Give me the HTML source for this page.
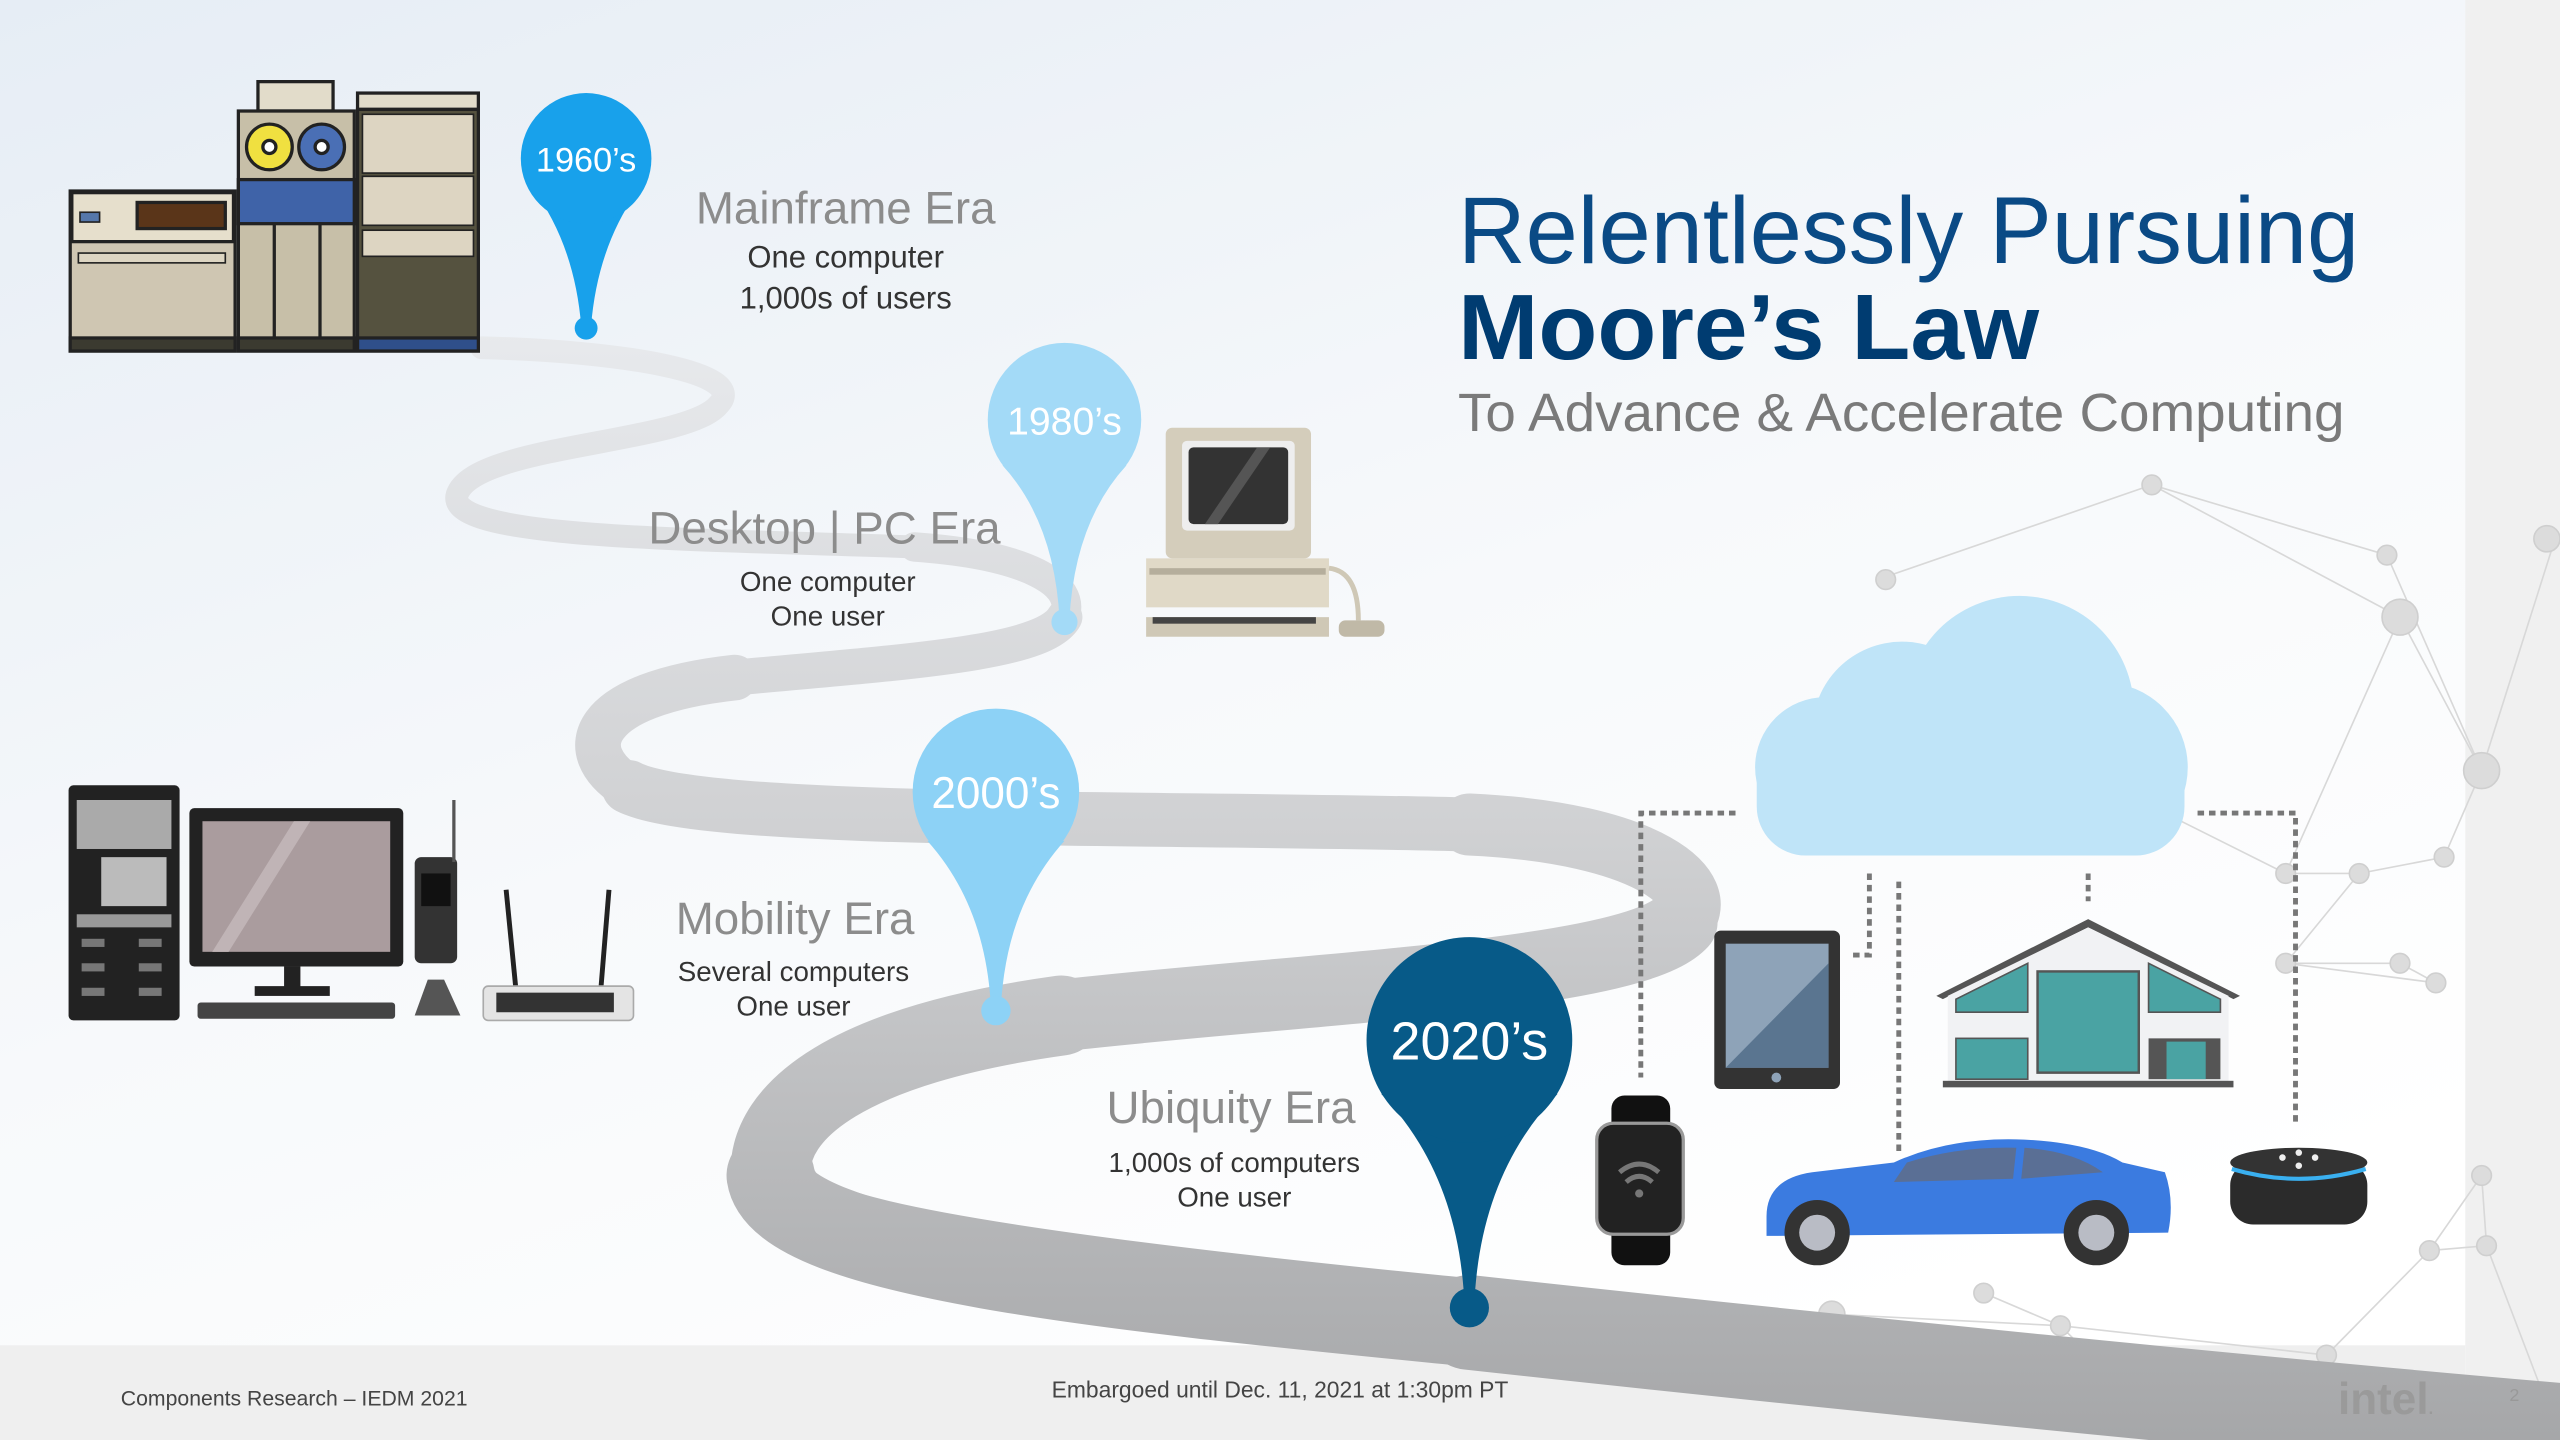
<!DOCTYPE html>
<html><head><meta charset="utf-8"><style>
html,body{margin:0;padding:0;width:2560px;height:1440px;overflow:hidden;background:#fff}
svg{display:block}
text{font-family:"Liberation Sans",sans-serif}
</style></head><body>
<svg width="2560" height="1440" viewBox="0 0 1568 882" xmlns="http://www.w3.org/2000/svg">
<defs>
<linearGradient id="bg" x1="0" y1="0" x2="0.6" y2="1">
<stop offset="0" stop-color="#e6edf5"/><stop offset="0.55" stop-color="#f7f9fb"/><stop offset="1" stop-color="#ffffff"/>
</linearGradient>
<linearGradient id="rd" gradientUnits="userSpaceOnUse" x1="0" y1="200" x2="0" y2="880">
<stop offset="0" stop-color="#e8eaed"/><stop offset="0.45" stop-color="#d0d1d3"/><stop offset="1" stop-color="#a6a7a9"/>
</linearGradient>
</defs>
<rect width="1568" height="882" fill="url(#bg)"/>
<rect x="1510" y="0" width="58" height="882" fill="#f0f0f0"/>
<rect x="0" y="824" width="1510" height="58" fill="#efefef"/>

<!-- network -->
<g stroke="#d8d8d8" stroke-width="1" fill="none">
<path d="M1150 355 L1318 297 L1470 378 L1520 472 L1565 330 M1318 297 L1462 340 L1520 472 L1497 525 L1445 535 L1400 590 L1470 590 L1492 602 M1400 535 L1445 535 M1400 590 L1492 602 M1170 420 L1400 535 M1470 378 L1400 535 M1520 720 L1488 766 L1425 830 L1370 880 M1520 720 L1523 763 L1560 860 M1488 766 L1523 763 M1262 812 L1425 830 M1215 792 L1262 812 L1330 880 M1122 805 L1262 812"/>
</g>
<g fill="#dcdcdc" stroke="#cfcfcf">
<circle cx="1318" cy="297" r="6"/><circle cx="1470" cy="378" r="11"/><circle cx="1462" cy="340" r="6"/><circle cx="1520" cy="472" r="11"/><circle cx="1497" cy="525" r="6"/><circle cx="1445" cy="535" r="6"/><circle cx="1400" cy="535" r="6"/><circle cx="1400" cy="590" r="6"/><circle cx="1470" cy="590" r="6"/><circle cx="1492" cy="602" r="6"/><circle cx="1155" cy="355" r="6"/><circle cx="1520" cy="720" r="6"/><circle cx="1488" cy="766" r="6"/><circle cx="1523" cy="763" r="6"/><circle cx="1425" cy="830" r="6"/><circle cx="1262" cy="812" r="6"/><circle cx="1215" cy="792" r="6"/><circle cx="1122" cy="805" r="8"/><circle cx="1560" cy="330" r="8"/><circle cx="1540" cy="860" r="10"/>
</g>

<!-- road -->
<g fill="none" stroke="url(#rd)" stroke-linecap="round">
<path stroke-width="14" d="M295 213 C380 215 460 228 440 248 C420 272 290 272 280 303 C272 330 420 330 560 335 C630 340 660 358 652 378 C640 400 560 405 450 415 C360 425 350 460 385 482 C430 505 700 500 900 505 C1010 510 1050 545 1030 565 C1000 598 800 605 650 622 C520 640 470 680 472 720 C480 770 700 790 900 810 C1100 832 1400 862 1590 878"/>
<path stroke-width="18" d="M560 335 C630 340 660 358 652 378 C640 400 560 405 450 415 C360 425 350 460 385 482 C430 505 700 500 900 505 C1010 510 1050 545 1030 565 C1000 598 800 605 650 622 C520 640 470 680 472 720 C480 770 700 790 900 810 C1100 832 1400 862 1590 878"/>
<path stroke-width="22" d="M652 378 C640 400 560 405 450 415 C360 425 350 460 385 482 C430 505 700 500 900 505 C1010 510 1050 545 1030 565 C1000 598 800 605 650 622 C520 640 470 680 472 720 C480 770 700 790 900 810 C1100 832 1400 862 1590 878"/>
<path stroke-width="28" d="M450 415 C360 425 350 460 385 482 C430 505 700 500 900 505 C1010 510 1050 545 1030 565 C1000 598 800 605 650 622 C520 640 470 680 472 720 C480 770 700 790 900 810 C1100 832 1400 862 1590 878"/>
<path stroke-width="33" d="M385 482 C430 505 700 500 900 505 C1010 510 1050 545 1030 565 C1000 598 800 605 650 622 C520 640 470 680 472 720 C480 770 700 790 900 810 C1100 832 1400 862 1590 878"/>
<path stroke-width="38" d="M900 505 C1010 510 1050 545 1030 565 C1000 598 800 605 650 622 C520 640 470 680 472 720 C480 770 700 790 900 810 C1100 832 1400 862 1590 878"/>
<path stroke-width="44" d="M1030 565 C1000 598 800 605 650 622 C520 640 470 680 472 720 C480 770 700 790 900 810 C1100 832 1400 862 1590 878"/>
<path stroke-width="49" d="M650 622 C520 640 470 680 472 720 C480 770 700 790 900 810 C1100 832 1400 862 1590 878"/>
<path stroke-width="54" d="M472 720 C480 770 700 790 900 810 C1100 832 1400 862 1590 878"/>
<path stroke-width="58" d="M900 810 C1100 832 1400 862 1590 878"/>
</g>

<!-- footer over road -->
<g font-size="13" fill="#444">
<text x="74" y="861">Components Research – IEDM 2021</text>
<text x="784" y="856" text-anchor="middle" font-size="14">Embargoed until Dec. 11, 2021 at 1:30pm PT</text>
</g>
<text x="1432" y="866" font-size="27" font-weight="bold" fill="#9a9a9a">intel<tspan font-size="10">.</tspan></text>
<text x="1537" y="858" font-size="11" fill="#999">2</text>

<!-- title -->
<text x="893" y="161" font-size="58" fill="#0a4a85" textLength="552" lengthAdjust="spacingAndGlyphs">Relentlessly Pursuing</text>
<text x="893" y="220" font-size="57" font-weight="bold" fill="#003c71" textLength="356" lengthAdjust="spacingAndGlyphs">Moore’s Law</text>
<text x="893" y="264" font-size="33" fill="#7a7a7a" textLength="543" lengthAdjust="spacingAndGlyphs">To Advance &amp; Accelerate Computing</text>

<!-- pins -->
<g>
<path d="M326 115 Q352 150 356 200 L362 200 Q366 150 392 115 Z" fill="#18a1eb"/><circle cx="359" cy="97" r="40" fill="#18a1eb"/><circle cx="359" cy="201" r="7" fill="#18a1eb"/>
<text x="359" y="105" font-size="21" fill="#fff" text-anchor="middle">1960’s</text>
<path d="M614 285 Q646 320 649 380 L655 380 Q658 320 690 285 Z" fill="#a3daf7"/><circle cx="652" cy="257" r="47" fill="#a3daf7"/><circle cx="652" cy="381" r="8" fill="#a3daf7"/>
<text x="652" y="266" font-size="24" fill="#fff" text-anchor="middle">1980’s</text>
<path d="M568 515 Q604 555 607 618 L613 618 Q616 555 652 515 Z" fill="#8dd2f6"/><circle cx="610" cy="485" r="51" fill="#8dd2f6"/><circle cx="610" cy="619" r="9" fill="#8dd2f6"/>
<text x="610" y="495" font-size="27" fill="#fff" text-anchor="middle">2000’s</text>
<path d="M846 670 Q894 720 897 800 L903 800 Q906 720 954 670 Z" fill="#075a88"/><circle cx="900" cy="637" r="63" fill="#075a88"/><circle cx="900" cy="801" r="12" fill="#075a88"/>
<text x="900" y="649" font-size="33" fill="#fff" text-anchor="middle">2020’s</text>
</g>

<!-- era texts -->
<g text-anchor="middle">
<text x="518" y="137" font-size="28" fill="#8c8c8c">Mainframe Era</text>
<text x="518" y="164" font-size="19" fill="#333">One computer</text>
<text x="518" y="189" font-size="19" fill="#333">1,000s of users</text>
<text x="505" y="333" font-size="28" fill="#8c8c8c">Desktop | PC Era</text>
<text x="507" y="362" font-size="17" fill="#333">One computer</text>
<text x="507" y="383" font-size="17" fill="#333">One user</text>
<text x="487" y="572" font-size="28" fill="#8c8c8c">Mobility Era</text>
<text x="486" y="601" font-size="17" fill="#333">Several computers</text>
<text x="486" y="622" font-size="17" fill="#333">One user</text>
<text x="754" y="688" font-size="28" fill="#8c8c8c">Ubiquity Era</text>
<text x="756" y="718" font-size="17" fill="#333">1,000s of computers</text>
<text x="756" y="739" font-size="17" fill="#333">One user</text>
</g>

<!-- mainframe -->
<g stroke="#222" stroke-width="2">
<rect x="43" y="117" width="101" height="98" fill="#cfc6b2"/>
<rect x="44" y="118" width="99" height="30" fill="#e6dfcc"/>
<rect x="84" y="124" width="54" height="16" fill="#5a3519"/>
<rect x="49" y="130" width="12" height="6" fill="#5577aa" stroke-width="1"/>
<rect x="48" y="155" width="90" height="6" fill="#ddd5c2" stroke-width="1"/>
<rect x="43" y="207" width="101" height="8" fill="#3b3a30"/>
<rect x="158" y="50" width="46" height="18" fill="#e2dcca"/>
<rect x="146" y="68" width="71" height="147" fill="#c7bfa8"/>
<circle cx="165" cy="90" r="14" fill="#f0e040"/><circle cx="165" cy="90" r="4" fill="#fff"/>
<circle cx="197" cy="90" r="14" fill="#4a6fb5"/><circle cx="197" cy="90" r="4" fill="#fff"/>
<rect x="146" y="110" width="71" height="27" fill="#3f63a8"/>
<line x1="168" y1="137" x2="168" y2="207"/><line x1="196" y1="137" x2="196" y2="207"/>
<rect x="146" y="207" width="71" height="8" fill="#3b3a30"/>
<rect x="219" y="57" width="74" height="10" fill="#e2dcca"/>
<rect x="219" y="67" width="74" height="148" fill="#55523f"/>
<rect x="222" y="70" width="68" height="36" fill="#ddd5c2" stroke-width="1"/>
<rect x="222" y="108" width="68" height="30" fill="#ddd5c2" stroke-width="1"/>
<rect x="222" y="141" width="68" height="16" fill="#ddd5c2" stroke-width="1"/>
<rect x="219" y="207" width="74" height="8" fill="#2f4f8a"/>
</g>

<!-- 1980s computer -->
<g>
<rect x="714" y="262" width="89" height="80" rx="4" fill="#d4cdbb"/>
<rect x="724" y="270" width="69" height="55" rx="3" fill="#eee"/>
<rect x="728" y="274" width="61" height="47" rx="3" fill="#333"/>
<path d="M738 321 L770 274 L778 274 L746 321Z" fill="#555"/>
<rect x="702" y="342" width="112" height="30" fill="#e0d9c7"/>
<rect x="704" y="348" width="108" height="4" fill="#b5ae9c"/>
<rect x="702" y="378" width="112" height="12" fill="#cfc8b6"/>
<rect x="706" y="378" width="100" height="4" fill="#444"/>
<path d="M814 348 Q832 350 832 380" stroke="#cfc8b6" stroke-width="3" fill="none"/>
<rect x="820" y="380" width="28" height="10" rx="4" fill="#c0b9a7"/>
</g>

<!-- 2000s devices -->
<g>
<rect x="42" y="481" width="68" height="144" rx="3" fill="#222"/>
<rect x="47" y="490" width="58" height="30" fill="#aaa"/>
<rect x="62" y="525" width="40" height="30" fill="#bbb"/>
<rect x="47" y="560" width="58" height="8" fill="#999"/>
<g fill="#777"><rect x="50" y="575" width="14" height="5"/><rect x="85" y="575" width="14" height="5"/><rect x="50" y="590" width="14" height="5"/><rect x="85" y="590" width="14" height="5"/><rect x="50" y="605" width="14" height="5"/><rect x="85" y="605" width="14" height="5"/></g>
<rect x="116" y="495" width="131" height="97" rx="3" fill="#222"/>
<rect x="124" y="503" width="115" height="80" fill="#aa9c9e"/>
<path d="M130 583 L180 503 L190 503 L140 583Z" fill="#c0b4b6"/>
<rect x="174" y="592" width="10" height="14" fill="#222"/><rect x="156" y="604" width="46" height="6" fill="#222"/>
<rect x="121" y="614" width="121" height="10" rx="2" fill="#444"/>
<rect x="254" y="525" width="26" height="65" rx="4" fill="#333"/>
<rect x="258" y="535" width="18" height="20" fill="#111"/>
<line x1="278" y1="490" x2="278" y2="528" stroke="#555" stroke-width="2"/>
<path d="M262 600 L272 600 L282 622 L254 622Z" fill="#555"/>
<line x1="310" y1="545" x2="316" y2="606" stroke="#222" stroke-width="3"/>
<line x1="373" y1="545" x2="368" y2="606" stroke="#222" stroke-width="3"/>
<rect x="296" y="604" width="92" height="21" rx="3" fill="#e4e4e4" stroke="#aaa"/>
<rect x="304" y="608" width="72" height="12" fill="#333"/>
</g>

<!-- cloud -->
<g fill="#bfe4f8">
<circle cx="1237" cy="435" r="70"/><circle cx="1165" cy="448" r="55"/><circle cx="1118" cy="470" r="43"/><circle cx="1288" cy="470" r="52"/>
<rect x="1076" y="450" width="262" height="74" rx="30"/>
</g>
<g stroke="#777" stroke-width="3" stroke-dasharray="4 3" fill="none">
<path d="M1063 498 L1005 498 L1005 660"/>
<path d="M1346 498 L1406 498 L1406 690"/>
<path d="M1145 535 L1145 585 L1133 585"/>
<path d="M1163 540 L1163 705"/>
<path d="M1279 535 L1279 552"/>
</g>

<!-- tablet -->
<rect x="1050" y="570" width="77" height="97" rx="4" fill="#333"/>
<rect x="1057" y="578" width="63" height="76" fill="#8ea3b8"/>
<path d="M1057 654 L1120 590 L1120 654Z" fill="#5a7590"/>
<circle cx="1088" cy="660" r="3" fill="#8ea3b8"/>
<!-- watch -->
<rect x="987" y="671" width="36" height="104" rx="8" fill="#111"/>
<rect x="978" y="688" width="53" height="68" rx="10" fill="#222" stroke="#999" stroke-width="2"/>
<g fill="none" stroke="#777" stroke-width="3"><path d="M992 718 Q1004 708 1016 718"/><path d="M996 724 Q1004 717 1012 724"/></g>
<circle cx="1004" cy="731" r="2.5" fill="#777"/>
<!-- house -->
<path d="M1186 610 L1279 563 L1372 610 L1368 612 L1279 568 L1190 612Z" fill="#555"/>
<path d="M1193 610 L1279 568 L1365 610 L1365 665 L1193 665Z" fill="#f1f2f4"/>
<rect x="1248" y="595" width="62" height="62" fill="#4aa3a3" stroke="#555" stroke-width="1.5"/>
<path d="M1198 612 L1242 590 L1242 620 L1198 620Z" fill="#4aa3a3" stroke="#555"/>
<path d="M1360 612 L1316 590 L1316 620 L1360 620Z" fill="#4aa3a3" stroke="#555"/>
<rect x="1198" y="636" width="44" height="25" fill="#4aa3a3" stroke="#555"/>
<rect x="1316" y="636" width="44" height="25" fill="#555"/><rect x="1327" y="638" width="24" height="23" fill="#4aa3a3"/>
<rect x="1190" y="662" width="178" height="4" fill="#555"/>
<!-- car -->
<path d="M1082 745 Q1082 722 1110 718 L1160 712 Q1195 696 1240 698 Q1280 700 1300 712 L1326 718 Q1332 735 1328 755 L1082 757Z" fill="#3b7be0"/>
<path d="M1168 712 Q1200 702 1235 703 L1233 722 L1160 724Z" fill="#5a6f95"/>
<path d="M1240 703 Q1270 705 1288 718 L1238 722Z" fill="#5a6f95"/>
<circle cx="1113" cy="755" r="20" fill="#333"/><circle cx="1113" cy="755" r="11" fill="#b9bcc5"/>
<circle cx="1284" cy="755" r="20" fill="#333"/><circle cx="1284" cy="755" r="11" fill="#b9bcc5"/>
<!-- echo -->
<rect x="1366" y="712" width="84" height="38" rx="14" fill="#2b2b2b"/>
<ellipse cx="1408" cy="712" rx="42" ry="9" fill="#333"/>
<path d="M1367 716 Q1408 728 1449 716" stroke="#3ab0f0" stroke-width="2.5" fill="none"/>
<g fill="#eee"><circle cx="1398" cy="709" r="2"/><circle cx="1418" cy="709" r="2"/><circle cx="1408" cy="706" r="2"/><circle cx="1408" cy="714" r="2"/></g>
</svg>
</body></html>
